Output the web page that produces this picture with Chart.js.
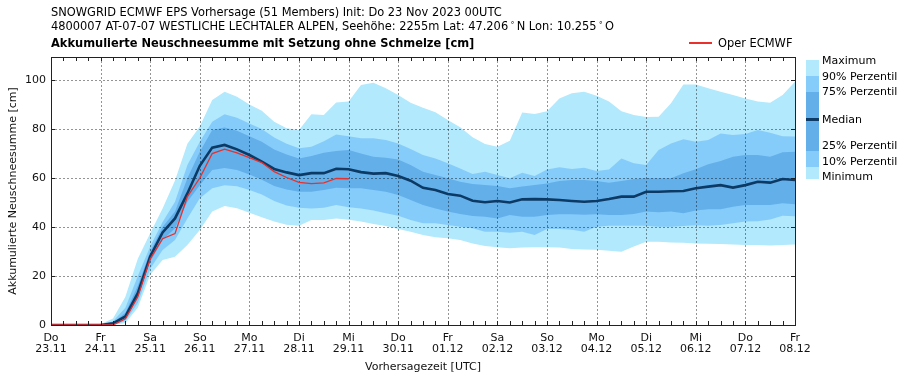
<!DOCTYPE html>
<html><head><meta charset="utf-8">
<script src="https://cdn.jsdelivr.net/npm/chart.js@4.4.0/dist/chart.umd.min.js"></script>
<style>
html,body{margin:0;padding:0;background:#fff;}
#wrap{position:relative;width:909px;height:380px;overflow:hidden;background:#fff;}
#c{position:absolute;left:0;top:0;}
.t{position:absolute;white-space:nowrap;color:#000;font-family:"DejaVu Sans Condensed","DejaVu Sans",sans-serif;font-size:12.7px;line-height:14px;}
.b{font-weight:bold;}
.lg{position:absolute;white-space:nowrap;color:#000;font-family:"DejaVu Sans",sans-serif;font-size:11px;line-height:13px;left:822px;}
.sw{position:absolute;left:806px;width:13px;}
.deg{font-size:8px;position:relative;top:-5px;margin:0 2px;}
</style></head>
<body><div id="wrap">
<canvas id="c" width="909" height="380"></canvas>
<div class="t" style="left:51px;top:5px;">SNOWGRID ECMWF EPS Vorhersage (51 Members) Init: Do 23 Nov 2023 00UTC</div>
<div class="t" style="left:51px;top:19px;">4800007 AT-07-07 WESTLICHE LECHTALER ALPEN, Seehöhe: 2255m Lat: 47.206<span class="deg">∘</span>N Lon: 10.255<span class="deg">∘</span>O</div>
<div class="t b" style="left:51px;top:36px;">Akkumulierte Neuschneesumme mit Setzung ohne Schmelze [cm]</div>
<div style="position:absolute;left:689px;top:42px;width:23px;height:2px;background:#e8302c;"></div>
<div class="t" style="left:718px;top:36px;">Oper ECMWF</div>
<div class="sw" style="top:60px;height:16px;background:#b2e9fc;"></div>
<div class="sw" style="top:76px;height:16px;background:#86ccfa;"></div>
<div class="sw" style="top:92px;height:59px;background:#63afea;"></div>
<div class="sw" style="top:118px;height:3px;background:#0c3a64;"></div>
<div class="sw" style="top:151px;height:16px;background:#86ccfa;"></div>
<div class="sw" style="top:167px;height:12px;background:#b2e9fc;"></div>
<div class="lg" style="top:54px;">Maximum</div>
<div class="lg" style="top:70px;">90% Perzentil</div>
<div class="lg" style="top:85px;">75% Perzentil</div>
<div class="lg" style="top:113px;">Median</div>
<div class="lg" style="top:139px;">25% Perzentil</div>
<div class="lg" style="top:155px;">10% Perzentil</div>
<div class="lg" style="top:170px;">Minimum</div>
</div>
<script>
// forecast hours (6-hourly from init)
const hours = [0,6,12,18,24,30,36,42,48,54,60,66,72,78,84,90,96,102,108,114,120,126,132,138,144,150,156,162,168,174,180,186,192,198,204,210,216,222,228,234,240,246,252,258,264,270,276,282,288,294,300,306,312,318,324,330,336,342,348,354,360];
// day tick labels
const dayNames = ['Do','Fr','Sa','So','Mo','Di','Mi','Do','Fr','Sa','So','Mo','Di','Mi','Do','Fr'];
const dayDates = ['23.11','24.11','25.11','26.11','27.11','28.11','29.11','30.11','01.12','02.12','03.12','04.12','05.12','06.12','07.12','08.12'];
const yTicks = [0,20,40,60,80,100];

const maxV = [0,0,0,0,0.3,2.7,11.5,27,37.5,47.6,59,74,81,91.8,95.2,93.2,90,87.5,83,80.3,79.6,86,85.7,90.8,91.2,98,98.9,96.6,93.9,90.7,88.7,86.8,83.7,80.7,76.6,73.9,72.8,75.2,86.7,86.1,87.3,92.5,94.6,95.2,93.6,91.2,87.3,85.7,84.9,85,90.5,98.2,98.2,96.6,95.2,93.9,92.5,91.2,90.7,93.9,99.3];
const p90 = [0,0,0,0,0,1.5,7,20,32,42,50.3,65.3,74.8,83,86,84.6,82.3,80,76.5,74,72.1,72.8,75,77.8,77,76.2,76.2,75.5,74.1,71.8,69.4,68,66,63.9,61.6,62.6,61.2,59.9,62.2,60.8,63.5,64.4,63.7,64.2,62.9,63.5,68,66,65.3,71.4,74.1,75.8,74.8,75.5,78.2,77.6,78,79.6,78.5,77.1,76.9];
const p75 = [0,0,0,0,0,1,5,16,30,40,46.3,59.9,70.7,79.6,80.6,79.3,77,74.8,71.6,69.6,68,69,70.3,71,71.4,70,68.7,68.3,67.6,65.3,62.6,61.2,59.9,58.5,57.6,57.1,56.7,55.8,56.5,57.1,57.8,58.8,59.2,59.2,58.8,58.1,58.8,59.6,59.9,59.9,59.9,61.9,63.6,65.6,66.9,68.7,69.4,69.4,68.7,70.5,70.7];
const median = [0,0,0,0,0,0.7,3.5,13,28,37.8,43.5,53.7,65,72.4,73.5,71.7,69.4,66.7,63.7,62.3,61.2,62,62,63.8,63.6,62.4,61.8,62,60.8,58.9,56,55.1,53.5,52.8,50.7,50.1,50.6,50,51.3,51.4,51.3,51,50.6,50.3,50.6,51.4,52.4,52.4,54.4,54.4,54.6,54.7,55.8,56.5,57.1,56.1,57.1,58.5,58.1,59.6,59.2];
const p25 = [0,0,0,0,0,0.3,2.5,11,25.8,34.7,39.5,50.3,57,63.3,64.1,63.3,61.4,59.3,56.7,55.3,54.4,54.4,55.1,56,55.8,55.8,55.1,54.4,53.1,51,49,47.6,46.3,45.3,44.5,44.2,43.5,44.9,44.2,44.2,44.9,45.2,45.2,45,45.2,44.9,44.9,45.3,46.3,46,46.3,45.6,46.7,47.2,47.3,48.3,49,49,49,49.7,49.3];
const p10 = [0,0,0,0,0,0.1,1.5,9,23,30.6,34.7,43.5,51.7,55.8,57,56.6,55.1,53.3,50.6,48.8,47.9,47.6,47.9,49,48.1,47.6,46.7,45.6,44.6,42.9,41.5,41.5,40.8,40.1,39.5,38.1,38.1,37.7,38.1,36.7,39.2,39.2,38.9,38.1,40.1,40.5,40.5,40.5,40.5,40.1,40.1,40.4,40.7,40.5,40.8,41.5,42.2,42.4,43.1,44.6,44.4];
const minV = [0,0,0,0,0,0,0.8,7,20.5,26.5,27.9,32.7,38.8,46.3,48.6,47.7,45.8,44,42.2,40.9,40.5,42.9,42.9,43.5,43,42.2,41.2,40.4,39.2,38.1,36.7,35.8,35.4,34.7,33.3,32.2,31.7,31.3,31.6,31.7,31.7,31.6,31,30.8,30.7,30.3,29.9,32,34,34,33.7,33.6,33.3,33.2,33.1,32.9,32.7,32.7,32.5,32.7,32.9];
const oper = [0,0,0,0,0,0,2.5,11.5,27,35.2,37.3,52.4,60,70,71.8,70.3,68.3,66.3,62.6,60.2,58.2,57.7,58,59.8,59.7];

const C_LIGHT = '#b2e9fc', C_MID = '#86ccfa', C_DARK = '#63afea', C_MED = '#0c3a64', C_OPER = '#e8302c';
const pts = arr => arr.map((v, i) => ({x: hours[i], y: v}));
const band = (data, fillTo, color, order) => ({data: pts(data), borderWidth: 0, borderColor: 'rgba(0,0,0,0)', backgroundColor: color, fill: fillTo, pointRadius: 0, tension: 0, order: order});

const overlay = {
  id: 'overlay',
  beforeDatasetDraw(chart, args) {
    if (args.index !== 3) return;
    const {ctx, chartArea: a, scales: {x, y}} = chart;
    ctx.save();
    ctx.strokeStyle = 'rgba(0,0,0,0.42)';
    ctx.lineWidth = 1;
    ctx.setLineDash([2, 2]);
    ctx.beginPath();
    for (let d = 1; d < dayNames.length - 1; d++) {
      const px = Math.round(x.getPixelForValue(d * 24)) + 0.5;
      ctx.moveTo(px, a.top); ctx.lineTo(px, a.bottom);
    }
    yTicks.forEach(v => {
      if (v === 0) return;
      const py = Math.round(y.getPixelForValue(v)) + 0.5;
      ctx.moveTo(a.left, py); ctx.lineTo(a.right, py);
    });
    ctx.stroke();
    ctx.restore();
  },
  afterDraw(chart) {
    const {ctx, chartArea: a, scales: {x, y}} = chart;
    ctx.save();
    ctx.strokeStyle = '#222';
    ctx.lineWidth = 1;
    ctx.beginPath();
    hours.forEach(h => {
      const px = Math.round(x.getPixelForValue(h)) + 0.5;
      ctx.moveTo(px, a.bottom); ctx.lineTo(px, a.bottom - 4);
      ctx.moveTo(px, a.top); ctx.lineTo(px, a.top + 4);
    });
    yTicks.forEach(v => {
      const py = Math.round(y.getPixelForValue(v)) + 0.5;
      ctx.moveTo(a.left, py); ctx.lineTo(a.left + 4, py);
      ctx.moveTo(a.right, py); ctx.lineTo(a.right - 4, py);
    });
    ctx.stroke();
    ctx.strokeRect(Math.round(a.left) + 0.5, Math.round(a.top) + 0.5, Math.round(a.right - a.left), Math.round(a.bottom - a.top));
    ctx.restore();
  }
};

new Chart(document.getElementById('c'), {
  type: 'line',
  data: {
    datasets: [
      band(maxV, 6, C_LIGHT, 10),
      band(p90, 5, C_MID, 9),
      band(p75, 4, C_DARK, 8),
      {data: pts(median), borderColor: C_MED, borderWidth: 2.6, pointRadius: 0, tension: 0, fill: false, order: 1},
      band(p25, false, 'rgba(0,0,0,0)', 20),
      band(p10, false, 'rgba(0,0,0,0)', 20),
      band(minV, false, 'rgba(0,0,0,0)', 20),
      {data: pts(oper), borderColor: C_OPER, borderWidth: 1.3, pointRadius: 0, tension: 0, fill: false, order: 0}
    ]
  },
  options: {
    responsive: false,
    animation: false,
    events: [],
    layout: {padding: {left: 0, right: 114, top: 57, bottom: 0}},
    plugins: {legend: {display: false}, tooltip: {enabled: false}, title: {display: false}},
    scales: {
      x: {
        type: 'linear', min: 0, max: 360,
        grid: {display: false, drawTicks: false},
        border: {display: false},
        ticks: {
          stepSize: 24, autoSkip: false, maxRotation: 0, padding: 8,
          color: '#111', font: {family: 'DejaVu Sans', size: 11, lineHeight: 1.0},
          callback: v => { const d = Math.round(v / 24); return [dayNames[d], dayDates[d]]; }
        },
        title: {display: true, text: 'Vorhersagezeit [UTC]', color: '#111', font: {family: 'DejaVu Sans', size: 11}, padding: {top: 0, bottom: 6}},
        afterFit: s => { s.height = 55; }
      },
      y: {
        min: 0, max: 109.4,
        grid: {display: false, drawTicks: false},
        border: {display: false},
        ticks: {stepSize: 20, padding: 5, color: '#111', font: {family: 'DejaVu Sans', size: 11}},
        afterBuildTicks: s => { s.ticks = yTicks.map(v => ({value: v})); },
        title: {display: true, text: 'Akkumulierte Neuschneesumme [cm]', color: '#111', font: {family: 'DejaVu Sans', size: 11}, padding: {top: 7, bottom: 0}},
        afterFit: s => { s.width = 51; }
      }
    }
  },
  plugins: [overlay]
});
</script>
</body></html>
